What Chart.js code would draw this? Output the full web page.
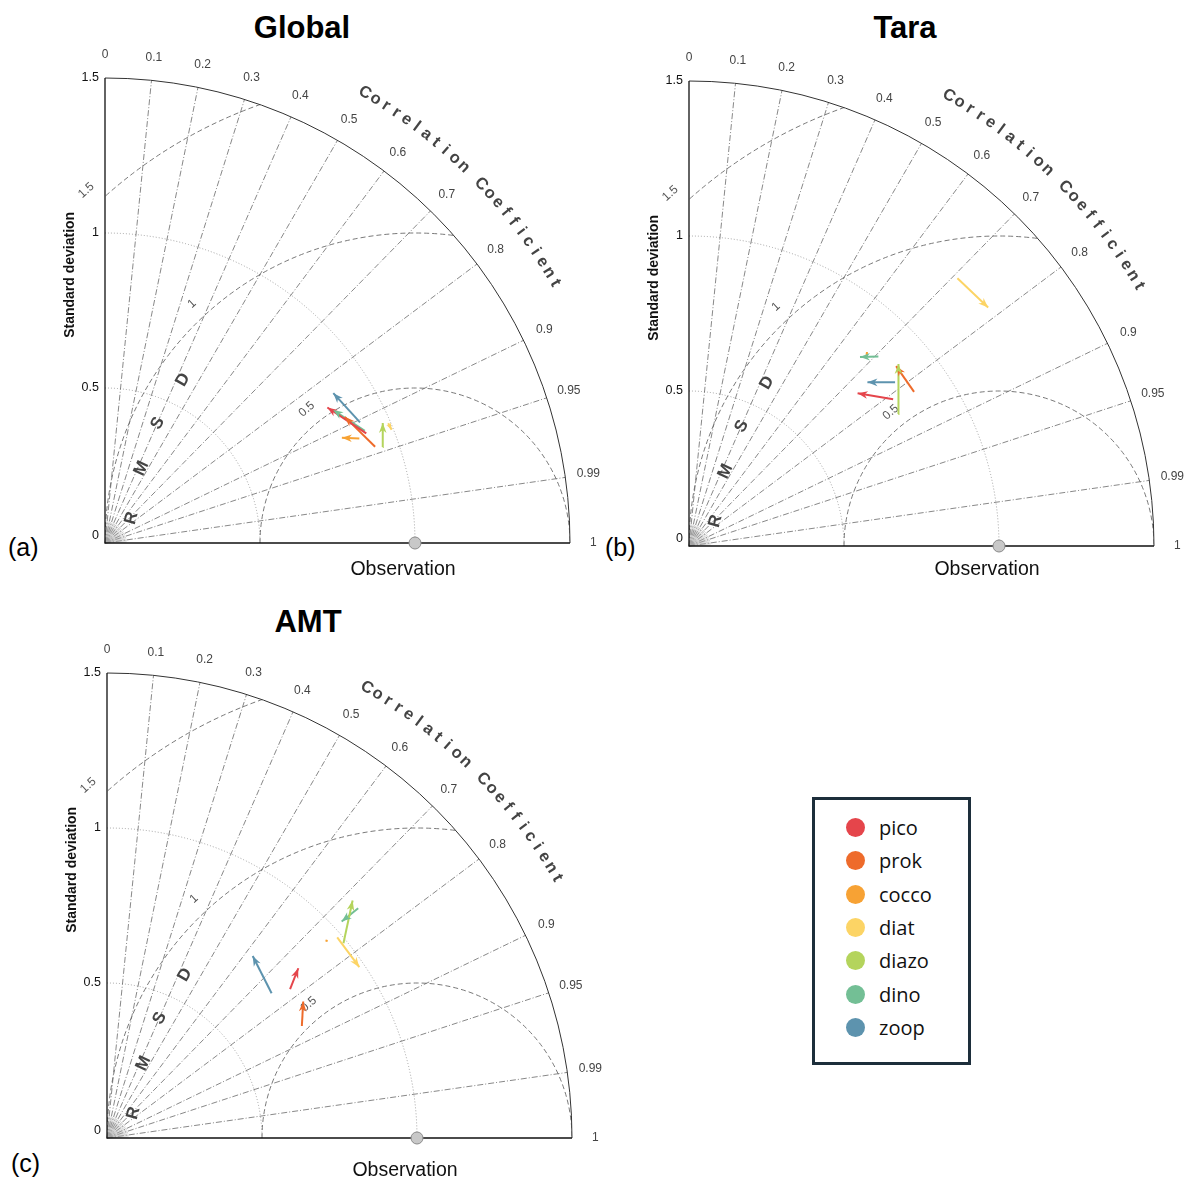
<!DOCTYPE html>
<html>
<head>
<meta charset="utf-8">
<script src="https://cdn.jsdelivr.net/npm/chart.js@4.4.1/dist/chart.umd.min.js"></script>
<style>
  body { margin: 0; background: #fff; width: 1190px; height: 1185px; position: relative; overflow: hidden;
         font-family: "Liberation Sans", Arial, sans-serif; }
  .panel { position: absolute; width: 610px; height: 600px; }
  .title { position: absolute; font-weight: bold; font-size: 31px; line-height: 1; transform: translateX(-50%); color: #000; }
  .tag { position: absolute; font-size: 25px; line-height: 1; color: #000; }
  #legend { position: absolute; left: 812px; top: 797px; width: 153px; height: 262px; border: 3px solid #1d2e3b; }
  #legend .item { position: absolute; left: 0; height: 24px; }
  #legend .dot { position: absolute; left: 31px; top: 2px; width: 19px; height: 19px; border-radius: 50%; }
  #legend .lbl { position: absolute; left: 64px; top: 0; font-size: 20px; line-height: 24px; font-family: "Open Sans", "Liberation Sans", sans-serif; color: #111; }
</style>
</head>
<body>

<div class="title" style="left:302px;top:12px">Global</div>
<div class="title" style="left:905px;top:12px">Tara</div>
<div class="title" style="left:308px;top:606px">AMT</div>
<div class="tag" style="left:8px;top:535px">(a)</div>
<div class="tag" style="left:605px;top:535px">(b)</div>
<div class="tag" style="left:11px;top:1151px">(c)</div>

<div class="panel" style="left:0px;top:0px"><canvas id="globalChart" width="610" height="600"></canvas></div>
<div class="panel" style="left:584px;top:3px"><canvas id="taraChart" width="606" height="600"></canvas></div>
<div class="panel" style="left:2px;top:595px"><canvas id="amtChart" width="610" height="590"></canvas></div>

<div id="legend"></div>

<script>
// plankton groups + colours
const groups = ['pico', 'prok', 'cocco', 'diat', 'diazo', 'dino', 'zoop'];
const groupColors = ['#e5454b', '#ee6b2b', '#f7a234', '#fcd465', '#b4d45c', '#73bf95', '#5d93ae'];

// normalised standard deviation and correlation, arrow tail (from) -> head (to)
const globalStdFrom = [0.914, 0.925, 0.887, 0.992, 0.948, 0.913, 0.910];
const globalCorFrom = [0.922, 0.942, 0.925, 0.921, 0.945, 0.918, 0.904];
const globalStdTo   = [0.840, 0.874, 0.836, 0.994, 0.976, 0.852, 0.881];
const globalCorTo   = [0.854, 0.885, 0.914, 0.930, 0.918, 0.864, 0.836];

const taraStdFrom = [0.811, 0.880, 0.840, 1.223, 0.798, 0.864, 0.849];
const taraCorFrom = [0.812, 0.825, 0.680, 0.708, 0.846, 0.707, 0.783];
const taraStdTo   = [0.734, 0.885, 0.849, 1.234, 0.895, 0.822, 0.781];
const taraCorTo   = [0.741, 0.755, 0.676, 0.782, 0.755, 0.671, 0.737];

const amtStdFrom = [0.761, 0.725, 0.954, 0.985, 0.988, 1.098, 0.707];
const amtCorFrom = [0.776, 0.867, 0.746, 0.754, 0.772, 0.738, 0.751];
const amtStdTo   = [0.825, 0.771, 0.950, 0.983, 1.102, 1.030, 0.752];
const amtCorTo   = [0.748, 0.821, 0.742, 0.828, 0.719, 0.735, 0.625];

// axis ticks
const stdTicks = [0, 0.5, 1, 1.5];
const corrTicks = [0, 0.1, 0.2, 0.3, 0.4, 0.5, 0.6, 0.7, 0.8, 0.9, 0.95, 0.99, 1];
const rmsdTicks = [0.5, 1, 1.5];
const obsStd = 1;

const toXY = (s, c) => ({ x: s * c, y: s * Math.sqrt(1 - c * c) });

// grid, labels of the Taylor diagram
const taylorGrid = {
    id: 'taylorGrid',
    beforeDatasetsDraw(chart, args, opts) {
        const { ctx, scales: { x, y } } = chart;
        const ox = x.getPixelForValue(0), oy = y.getPixelForValue(0);
        const unit = x.getPixelForValue(1) - ox;
        const R = 1.5 * unit;
        const obx = x.getPixelForValue(obsStd);
        ctx.save();

        // std dev arcs (dotted)
        ctx.strokeStyle = '#a0a0a0'; ctx.lineWidth = 1; ctx.setLineDash([1, 2]);
        stdTicks.forEach(s => {
            if (s <= 0 || s >= 1.5) return;
            ctx.beginPath(); ctx.arc(ox, oy, s * unit, -Math.PI / 2, 0); ctx.stroke();
        });

        // correlation spokes (dash-dot)
        ctx.strokeStyle = '#6a6a6a'; ctx.lineWidth = 0.8; ctx.setLineDash([6, 2, 1, 2]);
        corrTicks.forEach(c => {
            if (c <= 0 || c >= 1) return;
            const a = Math.acos(c);
            ctx.beginPath(); ctx.moveTo(ox, oy);
            ctx.lineTo(ox + R * Math.cos(a), oy - R * Math.sin(a)); ctx.stroke();
        });
        // dense short spokes near the origin
        ctx.setLineDash([]); ctx.strokeStyle = '#aaa'; ctx.lineWidth = 0.5;
        for (let d = 3; d < 90; d += 4) {
            const a = d * Math.PI / 180;
            ctx.beginPath(); ctx.moveTo(ox, oy);
            ctx.lineTo(ox + 0.07 * unit * Math.cos(a), oy - 0.07 * unit * Math.sin(a)); ctx.stroke();
        }

        // RMSD arcs around the observation, clipped to the quarter disc
        ctx.save();
        ctx.beginPath(); ctx.moveTo(ox, oy); ctx.arc(ox, oy, R, -Math.PI / 2, 0); ctx.closePath(); ctx.clip();
        ctx.strokeStyle = '#6a6a6a'; ctx.lineWidth = 0.9; ctx.setLineDash([5, 3]);
        rmsdTicks.forEach(r => {
            ctx.beginPath(); ctx.arc(obx, oy, r * unit, Math.PI, 2 * Math.PI); ctx.stroke();
        });
        ctx.restore();

        // outer arc + axes
        ctx.setLineDash([]);
        ctx.strokeStyle = '#333'; ctx.lineWidth = 1;
        ctx.beginPath(); ctx.arc(ox, oy, R, -Math.PI / 2, 0); ctx.stroke();
        ctx.strokeStyle = '#111'; ctx.lineWidth = 1.3;
        ctx.beginPath(); ctx.moveTo(ox, oy - R); ctx.lineTo(ox, oy); ctx.lineTo(ox + R, oy); ctx.stroke();

        // std dev tick labels
        ctx.fillStyle = '#111'; ctx.font = '12.5px "Liberation Sans", Arial, sans-serif';
        ctx.textAlign = 'right'; ctx.textBaseline = 'middle';
        stdTicks.forEach(s => {
            ctx.fillText(String(s), ox - 6, y.getPixelForValue(s) - (s === 0 ? 7 : 0));
        });
        // y axis title
        ctx.save();
        ctx.translate(ox - 35, y.getPixelForValue(0.865)); ctx.rotate(-Math.PI / 2);
        ctx.textAlign = 'center'; ctx.font = 'bold 14px "Liberation Sans", Arial, sans-serif';
        ctx.fillText('Standard deviation', 0, 0);
        ctx.restore();

        // correlation tick labels
        ctx.fillStyle = '#444'; ctx.font = '12px "Liberation Sans", Arial, sans-serif'; ctx.textAlign = 'center';
        corrTicks.forEach(c => {
            const a = Math.acos(c), r = 1.575 * unit;
            ctx.fillText(String(c), ox + r * Math.cos(a), oy - r * Math.sin(a));
        });

        // curved "Correlation Coefficient"
        const title = 'Correlation Coefficient';
        ctx.font = 'bold 16.5px "Liberation Sans", Arial, sans-serif'; ctx.fillStyle = '#444';
        for (let i = 0; i < title.length; i++) {
            const deg = 60 - i * 30 / (title.length - 1);
            const a = deg * Math.PI / 180, r = 1.677 * unit;
            ctx.save();
            ctx.translate(ox + r * Math.cos(a), oy - r * Math.sin(a));
            ctx.rotate((90 - deg) * Math.PI / 180);
            ctx.fillText(title[i], 0, 0);
            ctx.restore();
        }

        // RMSD arc labels
        ctx.font = '12px "Liberation Sans", Arial, sans-serif'; ctx.fillStyle = '#555';
        const rmsdLabelDeg = [129, 133, 133];
        rmsdTicks.forEach((r, k) => {
            const a = rmsdLabelDeg[k] * Math.PI / 180, rr = (r + 0.055) * unit;
            ctx.save();
            ctx.translate(obx + rr * Math.cos(a), oy - rr * Math.sin(a));
            ctx.rotate(-42 * Math.PI / 180);
            ctx.fillText(String(r), 0, 0);
            ctx.restore();
        });

        // "RMSD" letters
        ctx.font = 'bold 17px "Liberation Sans", Arial, sans-serif'; ctx.fillStyle = '#444';
        [['R', 0.086, 0.080, -75], ['M', 0.118, 0.241, -65], ['S', 0.170, 0.386, -62], ['D', 0.252, 0.526, -60]]
            .forEach(([ch, vx, vy, rot]) => {
                ctx.save();
                ctx.translate(x.getPixelForValue(vx), y.getPixelForValue(vy));
                ctx.rotate(rot * Math.PI / 180);
                ctx.fillText(ch, 0, 0);
                ctx.restore();
            });

        // Observation label
        ctx.font = '19.5px "Liberation Sans", Arial, sans-serif'; ctx.fillStyle = '#111';
        ctx.fillText('Observation', obx - 12, oy + (opts.obsLabelOffset || 27));
        ctx.restore();
    }
};

// arrow heads at the end of every arrow dataset
const arrowHeads = {
    id: 'arrowHeads',
    afterDatasetsDraw(chart) {
        const ctx = chart.ctx;
        chart.data.datasets.forEach((ds, i) => {
            if (!ds.arrow) return;
            const pts = chart.getDatasetMeta(i).data;
            const a = pts[0], b = pts[1];
            const dx = b.x - a.x, dy = b.y - a.y, len = Math.hypot(dx, dy) || 1;
            const h = Math.min(10, len * 0.9), w = h * 0.38;
            const ux = dx / len, uy = dy / len;
            ctx.save();
            ctx.fillStyle = ds.borderColor;
            ctx.beginPath();
            ctx.moveTo(b.x, b.y);
            ctx.lineTo(b.x - ux * h - uy * w, b.y - uy * h + ux * w);
            ctx.lineTo(b.x - ux * h * 0.7, b.y - uy * h * 0.7);
            ctx.lineTo(b.x - ux * h + uy * w, b.y - uy * h - ux * w);
            ctx.closePath(); ctx.fill();
            ctx.restore();
        });
    }
};

function buildTaylor(canvasId, stdFrom, corFrom, stdTo, corTo, pad, obsLabelOffset) {
    const datasets = groups.map((g, i) => ({
        label: g,
        arrow: true,
        data: [toXY(stdFrom[i], corFrom[i]), toXY(stdTo[i], corTo[i])],
        showLine: true,
        borderColor: groupColors[i],
        backgroundColor: groupColors[i],
        borderWidth: 2,
        pointRadius: 0
    }));
    datasets.push({
        label: 'Observation',
        data: [{ x: obsStd, y: 0 }],
        pointRadius: 6,
        backgroundColor: '#c8c8c8',
        borderColor: '#8a8a8a',
        borderWidth: 1,
        clip: false
    });

    new Chart(document.getElementById(canvasId), {
        type: 'scatter',
        data: { datasets },
        options: {
            responsive: false,
            animation: false,
            devicePixelRatio: 1,
            layout: { padding: pad },
            scales: {
                x: { type: 'linear', min: 0, max: 1.5, display: false },
                y: { type: 'linear', min: 0, max: 1.5, display: false }
            },
            plugins: {
                legend: { display: false },
                tooltip: { enabled: false },
                taylorGrid: { obsLabelOffset: obsLabelOffset }
            }
        },
        plugins: [taylorGrid, arrowHeads]
    });
}

buildTaylor('globalChart', globalStdFrom, globalCorFrom, globalStdTo, globalCorTo, { left: 105, top: 78, right: 40, bottom: 57 }, 27);
buildTaylor('taraChart', taraStdFrom, taraCorFrom, taraStdTo, taraCorTo, { left: 105, top: 78, right: 36, bottom: 57 }, 24);
buildTaylor('amtChart', amtStdFrom, amtCorFrom, amtStdTo, amtCorTo, { left: 105, top: 78, right: 40, bottom: 47 }, 33);

// legend box
const legendEl = document.getElementById('legend');
groups.forEach((g, i) => {
    const item = document.createElement('div');
    item.className = 'item';
    item.style.top = (16 + i * 33.3) + 'px';
    item.innerHTML = `<span class="dot" style="background:${groupColors[i]}"></span><span class="lbl">${g}</span>`;
    legendEl.appendChild(item);
});
</script>
</body>
</html>
